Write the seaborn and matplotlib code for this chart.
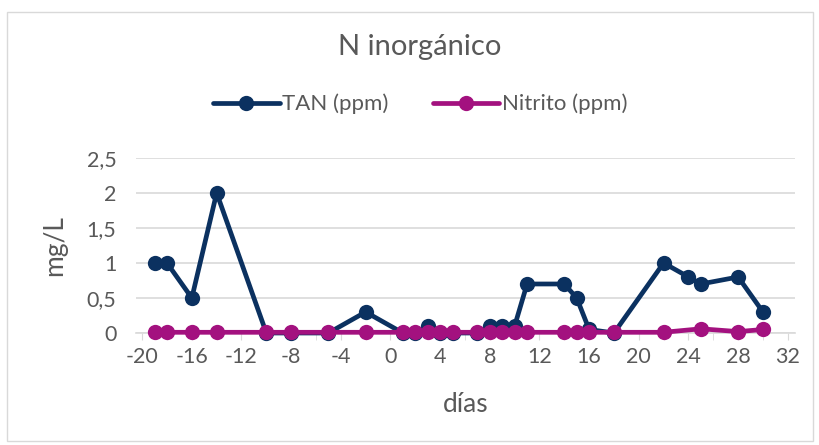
import pandas as pd
import matplotlib.pyplot as plt
import matplotlib.ticker as mticker
from matplotlib.patches import Rectangle
import seaborn as sns

# data
tan_dias = [-19, -18, -16, -14, -10, -8, -5, -2, 1, 2, 3, 4, 5, 7, 8, 9, 10, 11,
            14, 15, 16, 18, 22, 24, 25, 28, 30]
tan_vals = [1.0, 1.0, 0.5, 2.0, 0.0, 0.0, 0.0, 0.3, 0.0, 0.0, 0.1, 0.0, 0.0, 0.0,
            0.1, 0.1, 0.1, 0.7, 0.7, 0.5, 0.05, 0.0, 1.0, 0.8, 0.7, 0.8, 0.3]
nit_dias = [-19, -18, -16, -14, -10, -8, -5, -2, 1, 2, 3, 4, 5, 7, 8, 9, 10, 11,
            14, 15, 16, 18, 22, 25, 28, 30]
nit_vals = [0.01, 0.01, 0.01, 0.01, 0.01, 0.01, 0.01, 0.01, 0.01, 0.01, 0.01, 0.01,
            0.01, 0.01, 0.01, 0.01, 0.01, 0.01, 0.01, 0.01, 0.01, 0.01, 0.01, 0.06,
            0.02, 0.05]
x_ticks = list(range(-20, 33, 4))
y_ticks = [0, 0.5, 1, 1.5, 2, 2.5]

sns.set_style("white")
plt.rcParams['font.family'] = ['Lato', 'DejaVu Sans']
plt.rcParams['axes.unicode_minus'] = False
gray = '#595959'

fig = plt.figure(figsize=(8.19, 4.45), dpi=100)
ax = fig.add_axes([0.166, 0.2517, 0.805, 0.3933])

df_tan = pd.DataFrame({'dias': tan_dias, 'val': tan_vals})
df_nit = pd.DataFrame({'dias': nit_dias, 'val': nit_vals})

sns.lineplot(data=df_tan, x='dias', y='val', ax=ax, color='#0b3160', lw=3.4,
             marker='o', markersize=11, markeredgewidth=0, label='TAN (ppm)',
             clip_on=False, zorder=3)
sns.lineplot(data=df_nit, x='dias', y='val', ax=ax, color='#a3117f', lw=3.4,
             marker='o', markersize=11, markeredgewidth=0, label='Nitrito (ppm)',
             clip_on=False, zorder=4)

ax.set_xlim(-20.5, 32.6)
ax.set_ylim(0, 2.5)
ax.set_xticks(x_ticks)
ax.set_xticks(range(-20, 33, 2), minor=True)
ax.set_yticks(y_ticks)
ax.yaxis.set_major_formatter(mticker.FuncFormatter(
    lambda v, p: ('%g' % v).replace('.', ',')))
ax.grid(axis='y', color='#d9d9d9', lw=1.2)
ax.set_axisbelow(True)
for s in ['top', 'right', 'left']:
    ax.spines[s].set_visible(False)
ax.spines['bottom'].set_color('#d9d9d9')
ax.spines['bottom'].set_linewidth(1.2)
ax.tick_params(axis='x', which='both', direction='out', length=5, color='#d9d9d9',
               labelsize=15.5, labelcolor=gray, pad=5, bottom=True)
ax.tick_params(axis='y', length=0, labelsize=15.5, labelcolor=gray, pad=14)

ax.set_xlabel('días', fontsize=19, color=gray, labelpad=18)
ax.set_ylabel('mg/L', fontsize=19, color=gray, labelpad=14)

fig.text(0.513, 0.894, 'N inorgánico', ha='center', va='center', fontsize=21, color=gray)
ax.legend(loc='center', bbox_to_anchor=(0.431, 1.308), ncol=2, frameon=False,
          fontsize=16, labelcolor=gray, handlelength=3.0, handletextpad=0.1,
          columnspacing=2.0, bbox_transform=ax.transAxes)

fig.patches.append(Rectangle((0.008, 0.01), 0.985, 0.962, transform=fig.transFigure,
                             fill=False, edgecolor='#d9d9d9', lw=1))

fig.savefig('out.png', dpi=100)
